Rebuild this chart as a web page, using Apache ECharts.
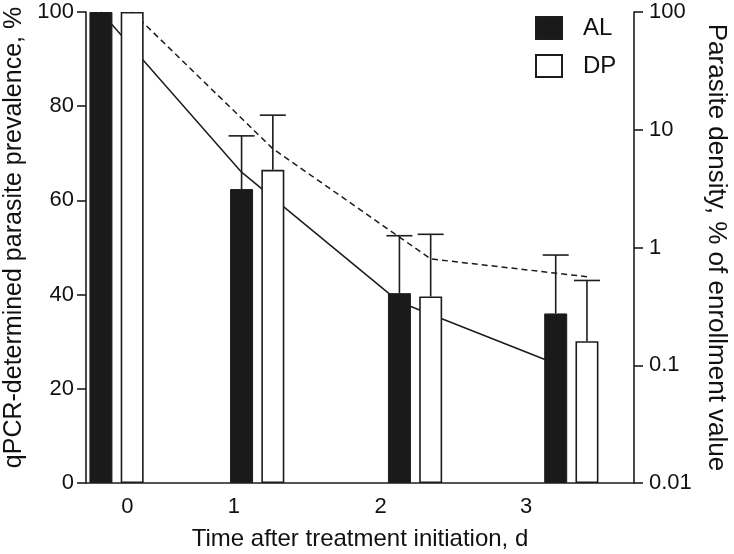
<!DOCTYPE html>
<html>
<head>
<meta charset="utf-8">
<script src="https://cdn.jsdelivr.net/npm/echarts@6/dist/echarts.min.js"></script>
<style>
  html, body { margin: 0; padding: 0; background: #fff; }
  #chart { width: 734px; height: 554px; }
</style>
</head>
<body>
<div id="chart"></div>
<script>
// ---- data ----
var dayLabels = ['0', '1', '2', '3'];
var dayLabelPos = [0.07, 0.75, 1.69, 2.62];     // where the day tick labels sit on the time axis
var alX = [-0.1, 0.8, 1.81, 2.81];              // AL sampling positions on the time axis
var dpX = [0.1, 1.0, 2.01, 3.01];               // DP sampling positions on the time axis
var alPrevalence = [100, 62.4, 40.3, 36.0];     // qPCR-determined prevalence, %
var dpPrevalence = [100, 66.5, 39.6, 30.1];
var alPrevUpper = [100, 73.7, 52.5, 48.4];      // upper error bar
var dpPrevUpper = [100, 78.1, 52.8, 43.0];
var alDensity = [100, 4.36, 0.344, 0.103];      // parasite density, % of enrollment value
var dpDensity = [100, 6.9, 0.80, 0.565];
var leftTicks = [0, 20, 40, 60, 80, 100];

var FONT = "'Liberation Sans', Arial, Helvetica, sans-serif";
var INK = '#1c1c1c';

function zip(xs, ys) { return xs.map(function (x, i) { return [x, ys[i]]; }); }

function errRender(params, api) {
  var x = api.value(0), lo = api.value(1), hi = api.value(2);
  if (!(hi > lo)) return null;
  var pLo = api.coord([x, lo]);
  var pHi = api.coord([x, hi]);
  var half = 13;
  return {
    type: 'group',
    children: [
      { type: 'line', shape: { x1: pLo[0], y1: pLo[1], x2: pHi[0], y2: pHi[1] },
        style: { stroke: INK, lineWidth: 1.6 } },
      { type: 'line', shape: { x1: pHi[0] - half, y1: pHi[1], x2: pHi[0] + half, y2: pHi[1] },
        style: { stroke: INK, lineWidth: 1.6 } }
    ]
  };
}

var chart = echarts.init(document.getElementById('chart'), null, { renderer: 'canvas' });
chart.setOption({
  animation: false,
  backgroundColor: '#fff',
  textStyle: { fontFamily: FONT, color: '#111' },
  grid: { left: 86, right: 100, top: 12, bottom: 71, containLabel: false, outerBoundsMode: 'none' },
  legend: {
    data: ['AL', 'DP'],
    orient: 'vertical',
    left: 535, top: 16, padding: 0,
    itemWidth: 26, itemHeight: 22, itemGap: 14,
    icon: 'rect',
    textStyle: { fontFamily: FONT, fontSize: 24, color: '#111', padding: [0, 0, 0, 16] }
  },
  xAxis: {
    type: 'value',
    min: -0.1955, max: 3.311,
    name: 'Time after treatment initiation, d',
    nameLocation: 'middle', nameGap: 44,
    nameTextStyle: { fontFamily: FONT, fontSize: 24, color: '#111' },
    axisLine: { show: true, onZero: false, lineStyle: { color: INK, width: 1.6 } },
    axisTick: { show: false },
    splitLine: { show: false },
    axisLabel: {
      customValues: dayLabelPos,
      fontFamily: FONT, fontSize: 22, color: '#111', margin: 13,
      formatter: function (v) {
        var best = 0, d = Infinity;
        dayLabelPos.forEach(function (p, i) { if (Math.abs(p - v) < d) { d = Math.abs(p - v); best = i; } });
        return dayLabels[best];
      }
    }
  },
  yAxis: [
    {
      type: 'value', min: 0, max: 100, interval: 20, position: 'left',
      name: 'qPCR-determined parasite prevalence, %',
      nameLocation: 'middle', nameGap: 55,
      nameTextStyle: { fontFamily: FONT, fontSize: 25, color: '#111', padding: [0, 0, 0, 20] },
      axisLine: { show: true, onZero: false, lineStyle: { color: INK, width: 1.6 } },
      axisTick: { show: true, length: 9, lineStyle: { color: INK, width: 1.6 } },
      splitLine: { show: false },
      axisLabel: { fontFamily: FONT, fontSize: 22, color: '#111', margin: 12,
        formatter: function (v) { return leftTicks.indexOf(v) >= 0 ? String(v) : ''; } }
    },
    {
      type: 'log', logBase: 10, min: 0.01, max: 100, position: 'right',
      name: 'Parasite density, % of enrollment value',
      nameLocation: 'middle', nameGap: 65, nameRotate: -90,
      nameTextStyle: { fontFamily: FONT, fontSize: 26, color: '#111' },
      axisLine: { show: true, onZero: false, lineStyle: { color: INK, width: 1.6 } },
      axisTick: { show: true, length: 9, lineStyle: { color: INK, width: 1.6 } },
      minorTick: { show: false },
      splitLine: { show: false },
      axisLabel: { fontFamily: FONT, fontSize: 22, color: '#111', margin: 15,
        formatter: function (v) { return String(+Number(v).toPrecision(2)); } }
    }
  ],
  series: [
    {
      name: 'AL density', type: 'line', yAxisIndex: 1, z: 1,
      data: zip(alX, alDensity), symbol: 'none',
      lineStyle: { color: INK, width: 1.5 }
    },
    {
      name: 'DP density', type: 'line', yAxisIndex: 1, z: 1,
      data: zip(dpX, dpDensity), symbol: 'none',
      lineStyle: { color: INK, width: 1.5, type: [6, 4] }
    },
    {
      name: 'AL', type: 'bar', yAxisIndex: 0, z: 3,
      data: zip(alX, alPrevalence),
      barWidth: 23, barGap: '-100%',
      itemStyle: { color: '#1a1a1a', borderColor: INK, borderWidth: 1 }
    },
    {
      name: 'DP', type: 'bar', yAxisIndex: 0, z: 3,
      data: zip(dpX, dpPrevalence),
      barWidth: 23, barGap: '-100%',
      itemStyle: { color: '#ffffff', borderColor: INK, borderWidth: 1.6 }
    },
    {
      name: 'AL err', type: 'custom', yAxisIndex: 0, z: 4,
      data: alX.map(function (x, i) { return [x, alPrevalence[i], alPrevUpper[i]]; }),
      renderItem: errRender, encode: { x: 0, y: [1, 2] }
    },
    {
      name: 'DP err', type: 'custom', yAxisIndex: 0, z: 4,
      data: dpX.map(function (x, i) { return [x, dpPrevalence[i], dpPrevUpper[i]]; }),
      renderItem: errRender, encode: { x: 0, y: [1, 2] }
    }
  ]
});
</script>
</body>
</html>
